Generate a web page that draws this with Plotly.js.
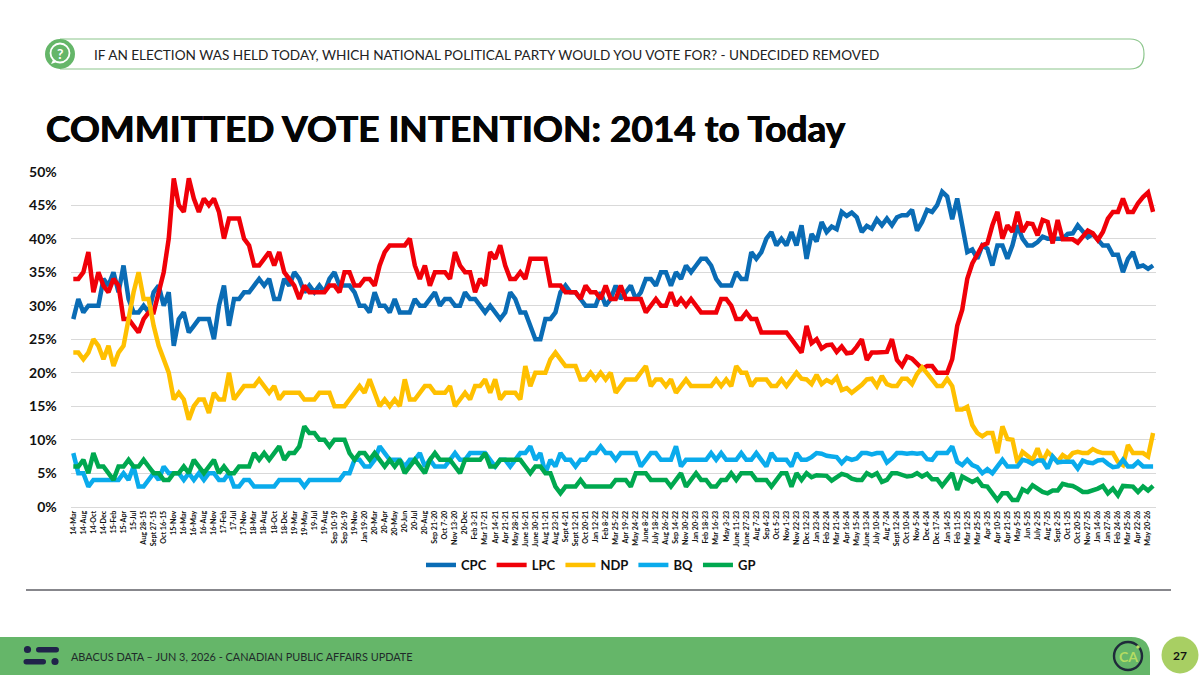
<!DOCTYPE html>
<html><head><meta charset="utf-8">
<script src="https://cdn.plot.ly/plotly-3.0.1.min.js"></script>
<style>html,body{margin:0;padding:0;background:#fff}#c{width:1200px;height:675px}</style>
</head><body><div id="c"></div>
<script>
const labels = ["14-Mar","14-Aug","14-Oct","14-Dec","15-Feb","15-Apr","15-Jul","Aug 28-15","Sept 27-15","Oct 16-15",
"15-Nov","16-Mar","16-May","16-Aug","16-Nov","17-Feb","17-Jul","17-Nov","18-Mar","18-Aug",
"18-Oct","18-Dec","19-Mar","19-May","19-Jul","19-Aug","Sep 10-19","Sep 26-19","19-Nov","Jan 19-20",
"20-Mar","20-Apr","20-May","20-Jun","20-Jul","20-Aug","Sep 21-20","Oct 7-20","Nov 13-20","20-Dec",
"Feb 3-21","Mar 17-21","Apr 14-21","Apr 21-21","May 28-21","June 16-21","June 30-21","Aug 11-21","Aug 23-21","Sept 4-21",
"Sept 12-21","Oct 20-21","Jan 12-22","Feb 8-22","Mar 25-22","Apr 19-22","May 24-22","June 8-22","July 18-22","Aug 26-22",
"Sep 14-22","Nov 30-22","Jan 20-23","Feb 18-23","Mar 16-23","May 3-23","June 11-23","June 27-23","Aug 7-23","Sep 4-23",
"Oct 5-23","Nov 1-23","Nov 22-23","Dec 12-23","Jan 23-24","Feb 22-24","Mar 21-24","Apr 16-24","May 15-24","June 13-24",
"July 10-24","Aug 7-24","Sept 12-24","Oct 10-24","Nov 5-24","Dec 4-24","Dec 17-24","Jan 14-25","Feb 11-25","Mar 12-25",
"Mar 25-25","Apr 3-25","Apr 10-25","Apr 21-25","May 5-25","Jun 5-25","July 2-25","Aug 7-25","Sept 2-25","Oct 1-25",
"Oct 20-25","Nov 27-25","Jan 14-26","Jan 27-26","Feb 24-26","Mar 25-26","Apr 22-26","May 20-26"];

const CPC = [28,31,29,30,30,30,34,33,35,32,
36,31,29,29,30,29,32,33,30,32,
24,28,29,26,27,28,28,28,25,30,
33,27,31,31,32,32,33,34,33,34,
31,31,34,33,35,34,32,33,32,33,
32,34,35,33,33,33,32,30,30,29,
32,30,30,29,31,29,29,29,31,30,
30,31,32,30,31,31,30,30,32,31,
31,30,29,30,29,28,29,32,31,29,
29,27,25,25,28,28,29,32,33,32,
32,31,30,30,30,32,30,31,33,31,
32,33,31,32,34,34,33,35,35,33,
35,34,36,35,36,37,37,36,34,33,
33,33,35,34,34,38,37,38,40,41,
39,40,39,41,39,42,37,40.7,39.6,42.5,
41,41.8,41.4,44,43.4,43.9,43.2,41,41.9,41.5,
42.9,42,43,42,43.2,43.5,43.5,44.3,41.2,42.5,
44.3,44,45,47,46.3,42.9,46,42,38,38.4,
37,39,38.5,36,39,39,37,39,42,40,
39,39,39.5,40.3,40,40,40,40,40.7,40.8,
42,41,40.2,40.7,39.8,39,39,37.6,37.6,35,
37,38,35.8,36,35.5,36];

const LPC = [34,34,35,38,32,35,33,32,34,33,
28,28,27,26,28,29,29,32,35,40,
49,45,44,49,46,44,46,45,46,44,
40,43,43,43,40,39,36,36,37,38,
36,38,35,34,33,31,33,32,32,32,
32,33,33,32,35,35,33,33,34,34,
33,36,38,39,39,39,39,40,36,34,
36,33,35,35,35,34,38,36,35,35,
32,34,33,38,37,39,36,34,34,35,
34,37,37,37,37,33,33,33,32,32,
32,31,33,32,32,31,33,31,31,33,
31,31,31,31,29,30,31,30,30,32,
30,31,30,31,30,29,29,29,29,31,
31,30,28,28,29,28,28,26,26,26,
26,26,26,25,24,23,27,24.4,25,23.6,
24.1,24.2,23.1,23.9,22.9,23,23.9,25,21.9,23,
23,23,23.1,25,21.9,21,22.4,22.1,21.4,20.6,
21,21,20,20,20,22,27,29.4,34,36.3,
37.6,39,39.3,42,44,40,42,41,44,41,
42.3,42.2,40.5,42.8,42.5,39.3,42.8,39.9,39.9,39.9,
39.4,40.3,41.2,40.8,39.8,41,43,44,44,46,
44,44,45.3,46.2,46.9,44];

const NDP = [23,23,22,23,25,24,22,24,21,23,
24,28,32,35,31,31,27,24,22,20,
16,17,16,13,15,16,16,14,17,16,
16,20,16,17,18,18,18,19,18,17,
18,16,17,17,17,17,16,16,16,17,
17,17,15,15,15,16,17,18,17,19,
17,15,16,15,16,15,19,16,16,17,
18,18,17,17,17,18,15,16,17,16,
18,18,19,17,19,16,17,17,17,16,
21,18,20,20,20,22,23,22,21,21,
21,19,19,20,19,20,19,20,17,18,
19,19,19,20,21,18,19,19,18,19,
17,18,19,18,18,18,18,18,19,18,
19,18,21,20,20,18,19,19,19,18,
18,19,18,19,20,19.1,19,18.3,19.7,18.3,
18.9,18.5,19.3,17.4,17.7,17,17.5,18.2,19,19.1,
18,19.5,18.3,18,18,19.1,19.1,18.3,19.8,20.8,
19.9,18.9,18,18,19.1,18,14.5,14.5,14.9,12.2,
11,10.5,11,11,8,12,10.1,10,6.5,8.2,
7.6,7,8.7,6.7,8.2,7.5,6.7,7.7,7.2,8,
8.2,8,8,8.6,8.2,8,8,8,6.7,6.2,
9.2,8,8,8,7.5,11];

const BQ = [8,5,5,3,4,4,4,4,4,4,
5,4,6,3,3,4,5,4,6,5,
5,5,4,5,4,5,4,5,5,4,
4,5,3,3,4,4,3,3,3,3,
3,4,4,4,4,4,3,4,4,4,
4,4,4,4,5,5,7,7,6,6,
7,9,8,7,7,7,6,7,7,8,
6,7,6,6,6,7,8,7,7,8,
8,8,8,7,6,7,7,6,7,8,
8,9,7,8,5,7,6,8,7,7,
6,7,7,8,8,9,8,8,7,8,
8,8,8,6,7,8,8,7,7,7,
9,6,7,7,7,7,7,8,7,8,
7,7,7,8,7,7,8,7,6,8,
7,7,7,6,8,7,7,7.4,8,7.9,
7.6,7.5,7.4,6.5,7.3,7,7.2,8,8,7.8,
8,8,6.6,7.2,8,8,7.9,8,7.9,8,
7.1,7,8,8,8,9,6.7,6.2,7,6.2,
5.9,5,5.6,5,6,7,6,6,6,7,
6.8,6.4,6.9,6.9,5.7,7.5,6.6,6.7,6.7,6.7,
5.7,6.9,6.6,6.5,6.9,7,6.4,5.9,6,7,
6,6,6.7,6,6,6];

const GP = [6,6,7,5,8,6,6,5,4,6,
6,7,6,6,7,6,5,5,4,4,
5,5,6,5,7,6,5,6,7,5,
6,5,5,6,6,6,8,7,8,7,
8,9,7,8,8,9,12,11,11,10,
10,9,10,10,10,8,7,8,8,7,
8,7,6,7,6,7,5,6,7,6,
5,7,8,7,7,7,6,5,7,7,
7,7,8,6,6,7,7,7,7,7,
6,5,6,6,5,5,3,2,3,3,
3,4,3,3,3,3,3,3,4,4,
4,3,5,5,5,4,4,4,4,3,
4,5,3,4,5,4,4,3,3,4,
4,5,4,5,5,5,4,4,4,3,
4,5,5,3,5,4,5,4.4,4.7,4.6,
4.6,3.9,4.5,4.9,4.7,4.2,4,4,5,4.6,
5,3.7,4,5,5,4.7,4.5,4.6,5,4.5,
4.9,4.1,4.1,3.1,4,5,2.5,4.5,4.1,3.7,
4.1,3.1,3,2,1,2,2,1,1,2.6,
2.2,3.2,2.6,2.2,2,2.4,2.4,3.4,3.2,3.1,
2.7,2.2,2.2,2.4,2.7,3.1,2,2.7,1.7,3.1,
3,3,2.2,3,2.4,3.1];

const seriesNames = ["CPC","LPC","NDP","BQ","GP"];
const seriesValues = [CPC,LPC,NDP,BQ,GP];
const seriesColors = ["#0a6cb5","#f00008","#ffc000","#0aabec","#00a84f"];
const yTicks = [0,5,10,15,20,25,30,35,40,45,50];

const W=1200,H=675;
const px=x=>x/W, py=y=>1-y/H;
const FONT='Lato, "Open Sans", sans-serif';

const traces = seriesNames.map((n,k)=>({
  type:'scatter',mode:'lines',name:n,
  x:seriesValues[k].map((_,i)=>i),y:seriesValues[k],
  line:{color:seriesColors[k],width:4.5,shape:'linear'},
  hoverinfo:'skip',cliponaxis:false
}));

function circ(cx,cy,r,fill,line){return {type:'circle',xref:'paper',yref:'paper',x0:px(cx-r),x1:px(cx+r),y0:py(cy-r),y1:py(cy+r),fillcolor:fill,line:line||{width:0},layer:'above'};}
function pathPx(cmds,fill,line){
  const s=cmds.map(c=>{const o=[c[0]];for(let i=1;i<c.length;i+=2){o.push(px(c[i])+','+py(c[i+1]));}return o.join(' ');}).join(' ');
  return {type:'path',xref:'paper',yref:'paper',path:s,fillcolor:fill,line:line||{width:0},layer:'above'};
}
function pill(x0,y0,x1,y1,fill){const r=(y1-y0)/2;return pathPx([['M',x0+r,y0],['L',x1-r,y0],['Q',x1,y0,x1,y0+r],['Q',x1,y1,x1-r,y1],['L',x0+r,y1],['Q',x0,y1,x0,y0+r],['Q',x0,y0,x0+r,y0],['Z']],fill);}

const shapes=[
  pathPx([['M',60,39],['L',1130,39],['Q',1144,39,1144,54],['Q',1144,69,1130,69],['L',60,69]],'rgba(0,0,0,0)',{color:'#8cc68c',width:1.2}),
  circ(60,54,15,'#65b669'),
  circ(60,53,9.5,'rgba(0,0,0,0)',{color:'#fff',width:1.8}),
  pathPx([['M',53,60],['L',51,64],['L',57,62],['Z']],'#fff'),
  {type:'line',xref:'paper',yref:'paper',x0:px(26),x1:px(1171),y0:py(590),y1:py(590),line:{color:'#5f5f66',width:1.3},layer:'above'},
  pathPx([['M',0,637],['L',1131,637],['Q',1150,637,1150,656],['L',1150,675],['L',0,675],['Z']],'#65b669'),
  circ(27.5,649.5,3.6,'#20234a'),pill(36,647,59,652.5,'#20234a'),
  pill(23.5,659,46,664.5,'#20234a'),circ(55,661.5,3.6,'#20234a'),
  circ(1128,656,14,'rgba(0,0,0,0)',{color:'#1f2a3a',width:2.4}),
  circ(1138,647,1.8,'#b4dc62'),
  circ(1180,655,18.5,'#a8cf63')
];

const anns=[
  {x:px(60),y:py(53.5),text:'?',font:{family:FONT,size:14,color:'#fff',weight:700}},
  {x:px(93),y:py(55),xanchor:'left',text:'IF AN ELECTION WAS HELD TODAY, WHICH NATIONAL POLITICAL PARTY WOULD YOU VOTE FOR? - UNDECIDED REMOVED',font:{family:FONT,size:13.6,color:'#222'}},
  {x:px(44.5),y:py(128),xanchor:'left',text:'COMMITTED VOTE INTENTION: 2014 to Today',font:{family:FONT,size:37,color:'#050505',weight:700,shadow:'0.5px 0 0 #050505, -0.5px 0 0 #050505'}},
  {x:px(69.5),y:py(656.5),xanchor:'left',text:'ABACUS DATA – JUN 3, 2026 - CANADIAN PUBLIC AFFAIRS UPDATE',font:{family:FONT,size:10.9,color:'#1f2a2a'}},
  {x:px(1128),y:py(656),text:'CA',font:{family:FONT,size:14,color:'#b4dc62',weight:700}},
  {x:px(1180),y:py(655),text:'27',font:{family:FONT,size:12,color:'#111',weight:700}}
].map(a=>Object.assign({xref:'paper',yref:'paper',showarrow:false,xanchor:'center',yanchor:'middle',borderpad:0},a));

const layout={
  width:W,height:H,margin:{l:0,r:0,t:0,b:0,pad:0},
  paper_bgcolor:'#fff',plot_bgcolor:'#fff',
  font:{family:FONT},
  xaxis:{domain:[px(70.8),px(1155.6)],range:[-0.5,215.5],tickmode:'array',
    tickvals:labels.map((_,i)=>i*2),ticktext:labels,tickangle:-90,
    tickfont:{family:FONT,size:7.2,color:'#111',weight:700},ticks:'',ticklen:0,
    showgrid:false,zeroline:false,showline:true,linecolor:'#d9d9d9',linewidth:1.2,automargin:false,fixedrange:true},
  yaxis:{domain:[py(506.7),py(171.7)],range:[0,50],tickmode:'array',
    tickvals:yTicks,ticktext:yTicks.map(v=>v+'%'),ticklabelstandoff:13,
    tickfont:{family:FONT,size:14,color:'#111',weight:700},ticks:'',
    showgrid:true,gridcolor:'#d9d9d9',gridwidth:1.2,zeroline:false,showline:false,automargin:false,fixedrange:true},
  legend:{orientation:'h',xanchor:'center',yanchor:'middle',x:px(591),y:py(565),
    font:{family:FONT,size:13,color:'#111',weight:700},bgcolor:'rgba(0,0,0,0)',itemwidth:30,traceorder:'normal'},
  showlegend:true,shapes:shapes,annotations:anns
};
Plotly.newPlot('c',traces,layout,{displayModeBar:false,staticPlot:true});
</script></body></html>
